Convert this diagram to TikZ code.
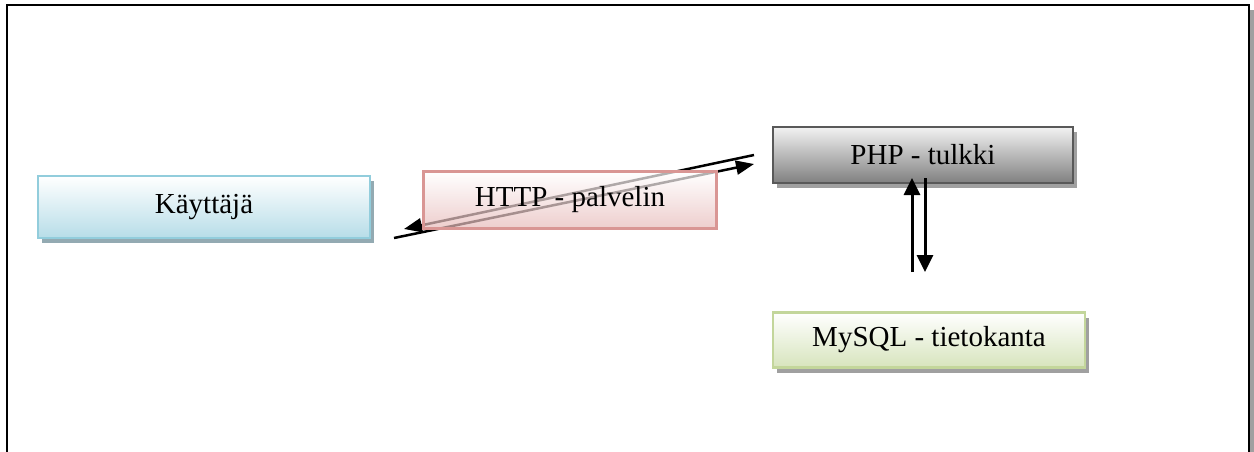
\documentclass[tikz,border=0pt]{standalone}
\usepackage{fontspec}
\setmainfont{Liberation Serif}
\usetikzlibrary{arrows.meta,shadows}
\definecolor{userfill}{RGB}{183,221,232}
\definecolor{userline}{RGB}{146,205,220}
\definecolor{usershade}{RGB}{147,170,178}
\definecolor{httpfill}{RGB}{230,185,184}
\definecolor{httpline}{RGB}{217,150,148}
\definecolor{phpfill}{RGB}{128,128,128}
\definecolor{phpline}{RGB}{89,89,89}
\definecolor{dbfill}{RGB}{215,228,189}
\definecolor{dbline}{RGB}{195,214,155}
\definecolor{boxshade}{RGB}{160,160,160}

\tikzset{
  layerbox/.style={draw, line width=2.5pt, inner sep=0pt, font=\fontsize{29}{34}\selectfont},
  boxshadow/.style={drop shadow={shadow xshift=4pt, shadow yshift=-5pt, fill=#1, opacity=1}},
  flow/.style={line width=2.5pt, -{Triangle[length=18pt,width=14pt]}}
}

\begin{document}
\begin{tikzpicture}[x=1pt, y=-1pt]
\useasboundingbox (0,0) rectangle (1254,452);

% Frame
\fill[boxshade] (1249.5,10) rectangle (1254,452);
\draw[line width=2pt] (7,452) -- (7,5) -- (1248.5,5) -- (1248.5,452);

% User
\node[layerbox, draw=userline, top color=white, bottom color=userfill,
      boxshadow=usershade, minimum width=332pt, minimum height=62pt] (user) at (204,207) {Käyttäjä};

% Request / response
\coordinate (userout) at (394,238);
\coordinate (phpin) at (754,164);
\coordinate (phpout) at (754,155);
\coordinate (userin) at (404,229);
\draw[flow] (userout) -- (phpin);
\draw[flow] (phpout) -- (userin);

% Web server
\node[layerbox, draw=httpline, top color=white, bottom color=httpfill,
      fill opacity=0.7, draw opacity=1, text opacity=1,
      minimum width=293pt, minimum height=57pt] (http) at (570,200) {HTTP - palvelin};

% Interpreter
\node[layerbox, draw=phpline, top color=gray!10, bottom color=phpfill,
      boxshadow=boxshade, minimum width=300pt, minimum height=56pt] (php) at (923,155) {PHP - tulkki};

% Database
\node[layerbox, draw=dbline, top color=white, bottom color=dbfill,
      boxshadow=boxshade, minimum width=312pt, minimum height=55pt] (db) at (929,340) {MySQL - tietokanta};

% Queries
\coordinate (dbup) at (912,272);
\coordinate (phpup) at (912,178);
\coordinate (phpdown) at (925,178);
\coordinate (dbdown) at (925,272);
\draw[flow, line width=3pt, -{Triangle[length=17pt,width=16pt]}] (dbup) -- (phpup);
\draw[flow, line width=3pt, -{Triangle[length=17pt,width=16pt]}] (phpdown) -- (dbdown);
\end{tikzpicture}
\end{document}
